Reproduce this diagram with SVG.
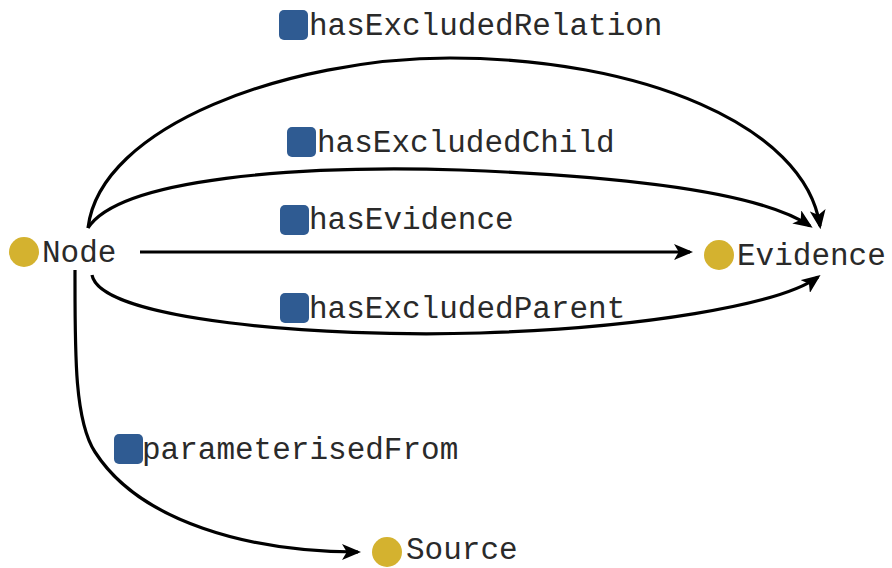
<svg xmlns="http://www.w3.org/2000/svg" width="892" height="568" viewBox="0 0 892 568">
<style>
.lbl{font-family:"Liberation Mono","Courier New",monospace;font-size:31px;fill:#2a2a2a}
.c{fill:#D4B22F}
.sq{fill:#2F5B92}
.e{fill:none;stroke:#000;stroke-width:3.2;marker-end:url(#ah)}
</style>
<defs>
<marker id="ah" viewBox="0 0 12 10" refX="10" refY="5" markerWidth="6" markerHeight="5" markerUnits="strokeWidth" orient="auto">
<path d="M0,0 L12,5 L0,10 L3,5 Z" fill="#000"/>
</marker>
</defs>
<rect width="892" height="568" fill="#fff"/>
<g id="connectors">
<path class="e" d="M88,228 C100,125 290,58 450,58 C640,58 805,125 820,226"/>
<path class="e" d="M88,228 C120,178 300,165 460,170 C620,176 760,192 810,226"/>
<path class="e" d="M140,252 L690,252"/>
<path class="e" d="M92,275 C100,320 320,338 480,333 C640,328 780,305 818,277"/>
<path class="e" d="M75,270 C75,350 74,420 95,452 C140,522 250,552 358,552"/>
</g>
<g id="Node"><circle class="c" cx="24" cy="252" r="15"/><text class="lbl" x="42" y="262">Node</text></g>
<g id="Evidence"><circle class="c" cx="719" cy="255" r="15"/><text class="lbl" x="737" y="265">Evidence</text></g>
<g id="Source"><circle class="c" cx="387" cy="552" r="15"/><text class="lbl" x="406" y="559">Source</text></g>
<g id="lbl-hasExcludedRelation"><rect class="sq" x="279" y="10" width="29" height="30" rx="5"/><text class="lbl" x="309" y="35">hasExcludedRelation</text></g>
<g id="lbl-hasExcludedChild"><rect class="sq" x="287" y="127" width="29" height="30" rx="5"/><text class="lbl" x="317" y="152">hasExcludedChild</text></g>
<g id="lbl-hasEvidence"><rect class="sq" x="280" y="205" width="29" height="30" rx="5"/><text class="lbl" x="309" y="229">hasEvidence</text></g>
<g id="lbl-hasExcludedParent"><rect class="sq" x="280" y="293" width="29" height="30" rx="5"/><text class="lbl" x="309" y="318">hasExcludedParent</text></g>
<g id="lbl-parameterisedFrom"><rect class="sq" x="114" y="434" width="29" height="30" rx="5"/><text class="lbl" x="142" y="459">parameterisedFrom</text></g>
</svg>
